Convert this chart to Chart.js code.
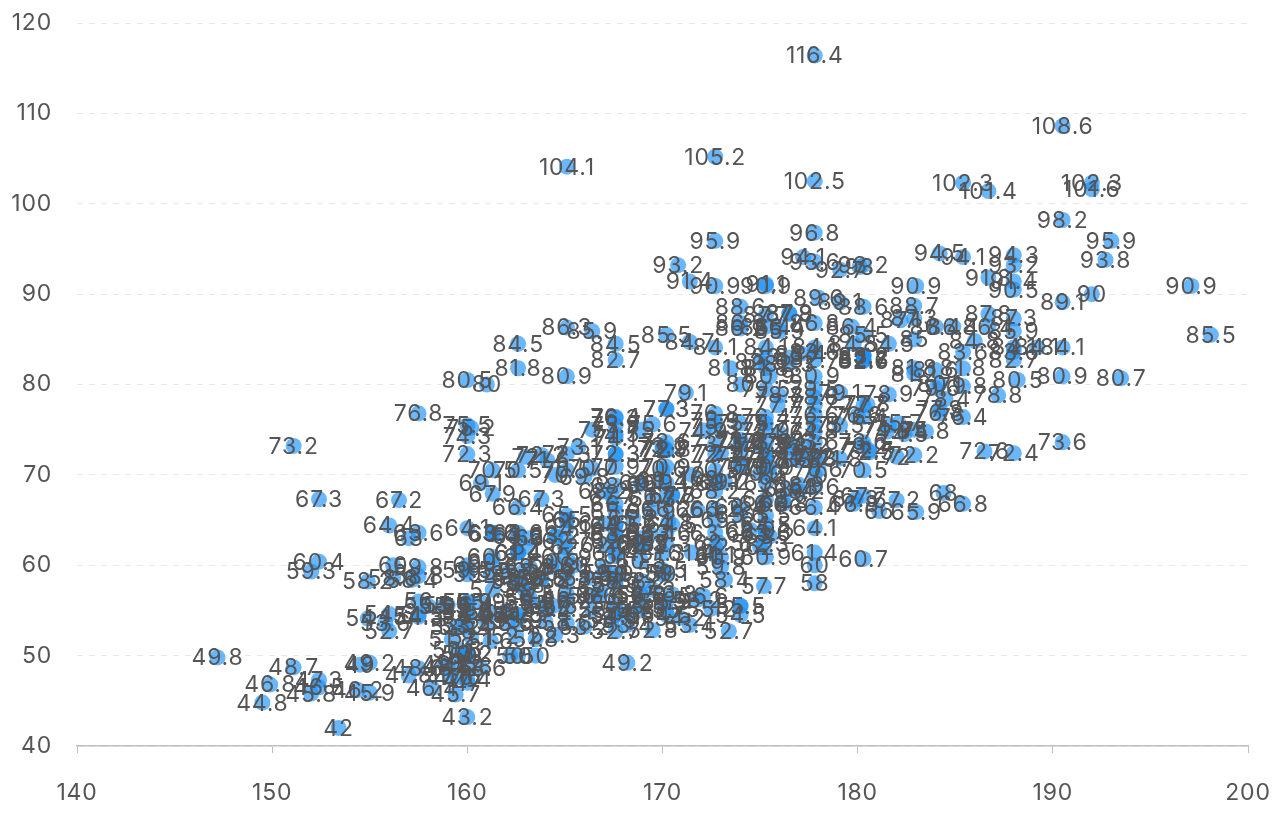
<!DOCTYPE html>
<html>
<head>
<meta charset="utf-8">
<title>Height and weight scatter</title>
<script src="https://cdn.jsdelivr.net/npm/chart.js@4/dist/chart.umd.min.js"></script>
<style>
  html, body { margin: 0; padding: 0; background: #fff; }
  #wrap { width: 1282px; height: 814px; }
</style>
</head>
<body>
<div id="wrap"><canvas id="chart" width="1282" height="814"></canvas></div>
<script>
// ─── Data ────────────────────────────────────────────────────
const xTicks = [140, 150, 160, 170, 180, 190, 200];
const yTicks = [40, 50, 60, 70, 80, 90, 100, 110, 120];

const groupA = [
  [161.2,51.6],[167.5,59],[159.5,49.2],[157,63],[155.8,53.6],[170,59],[159.1,47.6],[166,69.8],[176.2,66.8],[160.2,75.2],
  [172.5,55.2],[170.9,54.2],[172.9,62.5],[153.4,42],[160,50],[147.2,49.8],[168.2,49.2],[175,73.2],[157,47.8],[167.6,68.8],
  [159.5,50.6],[175,82.5],[166.8,57.2],[176.5,87.8],[170.2,72.8],[174,54.5],[173,59.8],[179.9,67.3],[170.5,67.8],[160,47],
  [154.4,46.2],[162,55],[176.5,83],[160,54.4],[152,45.8],[162.1,53.6],[170,73.2],[160.2,52.1],[161.3,67.9],[166.4,56.6],
  [168.9,62.3],[163.8,58.5],[167.6,54.5],[160,50.2],[161.3,60.3],[167.6,58.3],[165.1,56.2],[160,50.2],[170,72.9],[157.5,59.8],
  [167.6,61],[160.7,69.1],[163.2,55.9],[152.4,46.5],[157.5,54.3],[168.3,54.8],[180.3,60.7],[165.5,60],[165,62],[164.5,60.3],
  [156,52.7],[160,74.3],[163,62],[165.7,73.1],[161,80],[162,54.7],[166,53.2],[174,75.7],[172.7,61.1],[167.6,55.7],
  [151.1,48.7],[164.5,52.3],[163.5,50],[152,59.3],[169,62.5],[164,55.7],[161.2,54.8],[155,45.9],[170,70.6],[176.2,67.2],
  [170,69.4],[162.5,58.2],[170.3,64.8],[164.1,71.6],[169.5,52.8],[163.2,59.8],[154.5,49],[159.8,50],[173.2,69.2],[170,55.9],
  [161.4,63.4],[169,58.2],[166.2,58.6],[159.4,45.7],[162.5,52.2],[159,48.6],[162.8,57.8],[159,55.6],[179.8,66.8],[162.9,59.4],
  [161,53.6],[151.1,73.2],[168.2,53.4],[168.9,69],[173.2,58.4],[171.8,56.2],[178,70.6],[164.3,59.8],[163,72],[168.5,65.2],
  [166.8,56.6],[172.7,105.2],[163.5,51.8],[169.4,63.4],[167.8,59],[159.5,47.6],[167.6,63.2],[161.2,59],[160,47.4],[163.2,63],
  [162.2,50],[161.3,63.6],[149.5,44.8],[157.5,58.8],[163.2,56.4],[172.7,62],[155,49.2],[156.5,67.2],[164,53.8],[160.9,54.4],
  [162.8,58],[167,59.8],[160,54.8],[160,43.2],[168.9,60.5],[158.2,46.4],[156,64.4],[160,48.8],[167.1,62.2],[158,55.5],
  [167.6,57.8],[156,54.6],[162.1,59.2],[173.4,52.7],[159.8,53.2],[170.5,64.5],[159.2,51.8],[157.5,56],[161.3,63.6],[162.6,63.2],
  [160,59.5],[168.9,56.8],[165.1,64.1],[162.6,50],[165.1,72.3],[166.4,55],[160,55.9],[152.4,60.4],[170.2,69.1],[162.6,84.5],
  [170.2,55.9],[158.8,55.5],[172.7,69.5],[167.6,76.4],[162.6,61.4],[167.6,65.9],[156.2,58.6],[175.2,66.8],[172.1,56.6],[162.6,58.6],
  [160,55.9],[165.1,59.1],[182.9,81.8],[166.4,70.7],[165.1,56.8],[177.8,60],[165.1,58.2],[175.3,72.7],[154.9,54.1],[158.8,49.1],
  [172.7,75.9],[168.9,55],[161.3,57.3],[167.6,55],[165.1,65.5],[175.3,65.5],[157.5,48.6],[163.8,58.6],[167.6,63.6],[165.1,55.2],
  [165.1,62.7],[168.9,56.6],[162.6,53.9],[164.5,63.2],[176.5,73.6],[168.9,62],[175.3,63.6],[159.4,53.2],[160,53.4],[170.2,55],
  [162.6,70.5],[167.6,54.5],[162.6,54.5],[160.7,55.9],[160,59],[157.5,63.6],[162.6,54.5],[152.4,47.3],[170.2,67.7],[165.1,80.9],
  [172.7,70.5],[165.1,60.9],[170.2,63.6],[170.2,54.5],[170.2,59.1],[161.3,70.5],[167.6,52.7],[167.6,62.7],[165.1,86.3],[162.6,66.4],
  [152.4,67.3],[168.9,63],[170.2,73.6],[175.2,62.3],[175.2,57.7],[160,55.4],[165.1,104.1],[174,55.5],[170.2,77.3],[160,80.5],
  [167.6,64.5],[167.6,72.3],[167.6,61.4],[154.9,58.2],[162.6,81.8],[175.3,63.6],[171.4,53.4],[157.5,54.5],[165.1,53.6],[160,60],
  [174,73.6],[162.6,61.4],[174,55.5],[162.6,63.6],[161.3,60.9],[156.2,60],[149.9,46.8],[169.5,57.3],[160,64.1],[175.3,63.6],
  [169.5,67.3],[160,75.5],[172.7,68.2],[162.6,61.4],[157.5,76.8],[176.5,71.8],[164.4,55.5],[160.7,48.6],[174,66.4],[163.8,67.3]
];

const groupB = [
  [174,65.6],[175.3,71.8],[193.5,80.7],[186.5,72.6],[187.2,78.8],[181.5,74.8],[184,86.4],[184.5,78.4],[175,62],[184,81.6],
  [180,76.6],[177.8,83.6],[192,90],[176,74.6],[174,71],[184,79.6],[192.7,93.8],[171.5,70],[173,72.4],[176,85.9],
  [176,78.8],[180.5,77.8],[172.7,66.2],[176,86.4],[173.5,81.8],[178,89.6],[180.3,82.8],[180.3,76.4],[164.5,63.2],[173,60.9],
  [183.5,74.8],[175.5,70],[188,72.4],[189.2,84.1],[172.8,69.1],[170,59.5],[182,67.2],[170,61.3],[177.8,68.6],[184.2,80.1],
  [186.7,87.8],[171.4,84.7],[172.7,73.4],[175.3,72.1],[180.3,82.6],[182.9,88.7],[188,84.1],[177.2,94.1],[172.1,74.9],[167,59.1],
  [169.5,75.6],[174,86.2],[172.7,75.3],[182.2,87.1],[164.1,55.2],[163,57],[171.5,61.4],[184.2,76.8],[174,86.8],[174,72.2],
  [177,71.6],[186,84.8],[167,68.2],[171.8,66.1],[182,72],[167,64.6],[177.8,74.8],[164.5,70],[192,101.6],[175.5,63.2],
  [171.2,79.1],[181.6,78.9],[167.4,67.7],[181.1,66],[177,68.2],[174.5,63.9],[177.5,72],[170.5,56.8],[182.4,74.5],[197.1,90.9],
  [180.1,93],[175.5,80.9],[180.6,72.7],[184.4,68],[175.5,70.9],[180.6,72.5],[177,72.5],[177.1,83.4],[181.6,75.5],[176.5,73],
  [175,70.2],[174,73.4],[165.1,70.5],[177,68.9],[192,102.3],[176.5,68.4],[169.4,65.9],[182.1,75.7],[179.8,84.5],[175.3,87.7],
  [184.9,86.4],[177.3,73.2],[167.4,53.9],[178.1,72],[168.9,55.5],[157.2,58.4],[180.3,83.2],[170.2,72.7],[177.8,64.1],[172.7,72.3],
  [165.1,65],[186.7,86.4],[165.1,65],[174,88.6],[175.3,84.1],[185.4,66.8],[177.8,75.5],[180.3,93.2],[180.3,82.7],[177.8,58],
  [177.8,79.5],[177.8,78.6],[177.8,71.8],[177.8,116.4],[163.8,72.2],[188,83.6],[198.1,85.5],[175.3,90.9],[166.4,85.9],[190.5,89.1],
  [166.4,75],[177.8,77.7],[179.7,86.4],[172.7,90.9],[190.5,73.6],[185.4,76.4],[168.9,69.1],[167.6,74.5],[175.3,79.5],[175.3,73.6],
  [188,82.7],[175.3,86.4],[170.5,67.7],[179.1,92.7],[177.8,93.6],[175.3,70.9],[182.9,75],[170.8,93.2],[188,93.2],[180.3,77.7],
  [177.8,61.4],[185.4,94.1],[168.9,75],[185.4,83.6],[180.3,85.5],[174,73.9],[167.6,66.8],[182.9,87.3],[160,72.3],[180.3,88.6],
  [167.6,75.5],[186.7,101.4],[175.3,91.1],[175.3,67.3],[175.9,77.7],[175.3,81.8],[179.1,75.5],[181.6,84.5],[177.8,76.6],[182.9,85],
  [177.8,102.5],[184.2,77.3],[179.1,71.8],[176.5,87.9],[188,94.3],[174,70.9],[167.6,64.5],[170.2,77.3],[167.6,72.3],[188,87.3],
  [174,80],[176.5,82.3],[180.3,73.6],[167.6,74.1],[188,85.9],[180.3,73.2],[167.6,76.3],[183,65.9],[183,90.9],[179.1,89.1],
  [170.2,62.3],[177.8,82.7],[179.1,79.1],[190.5,98.2],[177.8,84.1],[180.3,83.2],[180.3,83.2],[190.5,108.6],[193,95.9],[184.2,94.5],
  [185.4,102.3],[186.7,91.8],[188,91.4],[188,90.5],[172.7,95.9],[177.8,96.8],[171.4,91.4],[190.5,84.1],[190.5,80.9],[188.2,80.5],
  [185.4,81.8],[172.7,84.1],[167.6,84.5],[167.6,82.7],[170.2,85.5],[175.3,75.7],[175.3,69.1],[175.3,64.5],[177.8,66.4],[177.8,70],
  [172.7,65],[172.7,76.8],[170.2,70.9],[177.8,73.6],[180.3,70.5],[180.3,67.7],[182.9,81.2],[182.9,72.2],[185.4,79.8],
  [175.3,76.4],[177.8,80.9],[177.8,86.8],[175.3,83],[175.3,60.9],[172.7,63.6],[170.2,66.2],[167.6,70.9],[175.3,74.9]
];

const points = [...groupA, ...groupB].map(([x, y]) => ({ x, y }));

// ─── Labels on top of every dot ──────────────────────────────
const valueLabels = {
  id: 'valueLabels',
  beforeDraw(chart) {
    chart.ctx.letterSpacing = '0.8px';
  },
  afterDatasetsDraw(chart) {
    const { ctx } = chart;
    const meta = chart.getDatasetMeta(0);
    ctx.save();
    ctx.font = '23px Inter, "Noto Sans", sans-serif';
    ctx.fillStyle = '#555555';
    ctx.textAlign = 'center';
    ctx.textBaseline = 'middle';
    meta.data.forEach((el, i) => {
      ctx.fillText(String(points[i].y), el.x, el.y + 1);
    });
    ctx.restore();
  }
};

new Chart(document.getElementById('chart'), {
  type: 'scatter',
  data: {
    datasets: [{
      data: points,
      pointRadius: 8,
      pointBorderWidth: 0,
      pointBackgroundColor: 'rgba(24,144,255,0.65)',
    }]
  },
  options: {
    responsive: false,
    animation: false,
    layout: { padding: { top: 23, right: 34 } },
    plugins: { legend: { display: false }, tooltip: { enabled: false } },
    scales: {
      x: {
        type: 'linear',
        min: 140,
        max: 200,
        afterBuildTicks: s => { s.ticks = xTicks.map(value => ({ value })); },
        afterFit: s => { s.height = 68; s.paddingRight = 0; s.paddingLeft = 0; },
        grid: { drawOnChartArea: false, drawTicks: true, tickLength: 7, color: '#bfbfbf', lineWidth: 1 },
        border: { display: true, color: '#bfbfbf', width: 1.5 },
        ticks: { color: '#555555', padding: 26, maxRotation: 0, font: { family: 'Inter', size: 23 } },
      },
      y: {
        type: 'linear',
        min: 40,
        max: 120,
        afterBuildTicks: s => { s.ticks = yTicks.map(value => ({ value })); },
        afterFit: s => { s.width = 77; s.paddingTop = 0; s.paddingBottom = 0; },
        grid: { drawTicks: false, color: '#e8e8e8', lineWidth: 1 },
        border: { display: false, dash: [6, 6] },
        ticks: { color: '#555555', padding: 25, font: { family: 'Inter', size: 23 } },
      }
    }
  },
  plugins: [valueLabels]
});
</script>
</body>
</html>
